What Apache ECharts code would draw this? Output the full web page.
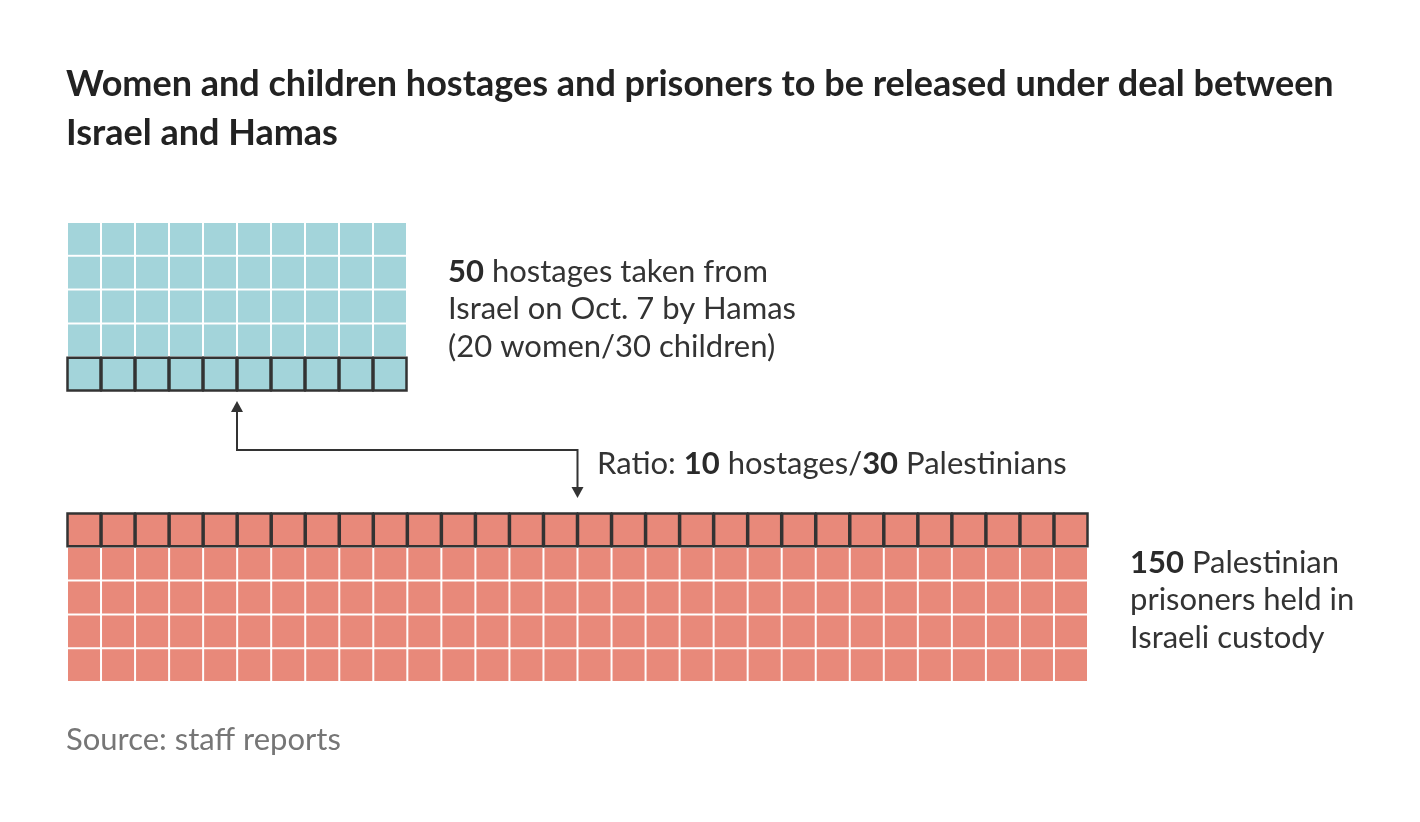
<!DOCTYPE html>
<html>
<head>
<meta charset="utf-8">
<script src="https://cdn.jsdelivr.net/npm/echarts@6/dist/echarts.min.js"></script>
<style>
html,body{margin:0;padding:0;background:#fff;}
#chart{width:1420px;height:822px;}
</style>
</head>
<body>
<div id="chart"></div>
<script>
// ---- data ----
const titleLines = ['Women and children hostages and prisoners to be released under deal between', 'Israel and Hamas'];
const hostageTotal = 50;          // 20 women / 30 children
const hostageCols = 10;
const prisonerTotal = 150;
const prisonerCols = 30;
const ratioHostages = 10;         // highlighted group in hostage grid (bottom row)
const ratioPalestinians = 30;     // highlighted group in prisoner grid (top row)
const hostageLabel = ['{b|50} hostages taken from', 'Israel on Oct. 7 by Hamas', '(20 women/30 children)'];
const prisonerLabel = ['{b|150} Palestinian', 'prisoners held in', 'Israeli custody'];
const ratioLabel = 'Ratio: {b|10} hostages/{b|30} Palestinians';
const sourceText = 'Source: staff reports';

// ---- build waffle cells from counts ----
function cells(total, cols, highlightCount, highlightAtEnd) {
  const out = [];
  for (let i = 0; i < total; i++) {
    const col = i % cols, row = Math.floor(i / cols);
    const hl = highlightAtEnd ? (i >= total - highlightCount) : (i < highlightCount);
    out.push([col, row, hl ? 1 : 0]);
  }
  return out;
}
const hostageCells = cells(hostageTotal, hostageCols, ratioHostages, true);
const prisonerCells = cells(prisonerTotal, prisonerCols, ratioPalestinians, false);

const FONT = 'Lato';
const FS = 31;
const chart = echarts.init(document.getElementById('chart'), null, {renderer: 'canvas'});

function makeRender(color) {
  return function (params, api) {
    const c = api.value(0), r = api.value(1), hl = api.value(2);
    const p0 = api.coord([c, r]);
    const p1 = api.coord([c + 1, r + 1]);
    const x = Math.min(p0[0], p1[0]), y = Math.min(p0[1], p1[1]);
    const w = Math.abs(p1[0] - p0[0]), h = Math.abs(p1[1] - p0[1]);
    if (hl) {
      return {type: 'rect', shape: {x: x + 0.5, y: y + 0.5, width: w - 1, height: h - 1},
        style: {fill: color, stroke: '#333333', lineWidth: 2.5}, z2: 10};
    }
    return {type: 'rect', shape: {x: x + 1, y: y + 1, width: w - 2, height: h - 2},
      style: {fill: color}};
  };
}

const hostageRows = Math.ceil(hostageTotal / hostageCols);
const prisonerRows = Math.ceil(prisonerTotal / prisonerCols);

const option = {
  animation: false,
  backgroundColor: '#ffffff',
  grid: [
    {left: 67, top: 222, width: 340, height: 169},
    {left: 67, top: 513, width: 1021, height: 169}
  ],
  xAxis: [
    {gridIndex: 0, type: 'value', min: 0, max: hostageCols, show: false},
    {gridIndex: 1, type: 'value', min: 0, max: prisonerCols, show: false}
  ],
  yAxis: [
    {gridIndex: 0, type: 'value', min: 0, max: hostageRows, inverse: true, show: false},
    {gridIndex: 1, type: 'value', min: 0, max: prisonerRows, inverse: true, show: false}
  ],
  series: [
    {type: 'custom', xAxisIndex: 0, yAxisIndex: 0, data: hostageCells, renderItem: makeRender('#a3d4da'), silent: true},
    {type: 'custom', xAxisIndex: 1, yAxisIndex: 1, data: prisonerCells, renderItem: makeRender('#e8897a'), silent: true}
  ],
  graphic: []
};
chart.setOption(option);

// ---- annotations positioned from the axes ----
const topMid = chart.convertToPixel({xAxisIndex: 0, yAxisIndex: 0}, [hostageCols / 2, hostageRows]);
const botMid = chart.convertToPixel({xAxisIndex: 1, yAxisIndex: 1}, [prisonerCols / 2, 0]);
const tipTop = topMid[1] + 10;
const tipBot = botMid[1] - 15;
const midY = (topMid[1] + botMid[1]) / 2 - 2;
const lineColor = '#333333';
const ah = 11, aw = 6;

const textBase = {fontFamily: FONT, fill: '#333333'};
const boldRich = {b: {fontFamily: FONT, fontWeight: 'bold', fontSize: FS, fill: '#2a2a2a', lineHeight: 37.5}};

chart.setOption({
  graphic: [
    {type: 'text', x: 66, y: 60, style: {text: titleLines.join('\n'), fontFamily: FONT, fontWeight: 'bold', fontSize: 36, lineHeight: 49, fill: '#222222'}},
    {type: 'polyline', shape: {points: [[topMid[0], tipTop + ah - 1], [topMid[0], midY], [botMid[0], midY], [botMid[0], tipBot - ah + 1]]},
      style: {stroke: lineColor, lineWidth: 2, fill: null}},
    {type: 'polygon', shape: {points: [[topMid[0], tipTop], [topMid[0] - aw, tipTop + ah], [topMid[0] + aw, tipTop + ah]]}, style: {fill: lineColor}},
    {type: 'polygon', shape: {points: [[botMid[0], tipBot], [botMid[0] - aw, tipBot - ah], [botMid[0] + aw, tipBot - ah]]}, style: {fill: lineColor}},
    {type: 'text', x: 597, y: 464, style: Object.assign({}, textBase, {text: ratioLabel, fontSize: FS, verticalAlign: 'middle', rich: {b: {fontFamily: FONT, fontWeight: 'bold', fontSize: FS, fill: '#2a2a2a'}}})},
    {type: 'text', x: 448, y: 253, style: Object.assign({}, textBase, {text: hostageLabel.join('\n'), fontSize: FS, lineHeight: 37.5, rich: boldRich})},
    {type: 'text', x: 1130, y: 544, style: Object.assign({}, textBase, {text: prisonerLabel.join('\n'), fontSize: FS, lineHeight: 37.5, rich: boldRich})},
    {type: 'text', x: 66, y: 724, style: {text: sourceText, fontFamily: FONT, fontSize: FS, fill: '#767676'}}
  ]
});
</script>
</body>
</html>
